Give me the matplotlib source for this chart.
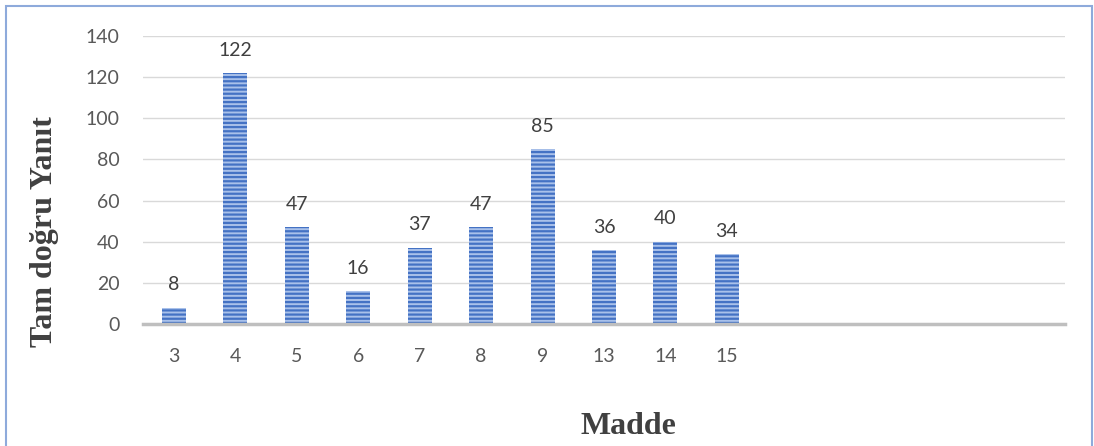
import matplotlib
matplotlib.use("Agg")
import matplotlib.pyplot as plt
from matplotlib.patches import Rectangle

# Item numbers and fully-correct answer counts (trailing slots left empty)
categories = ["3", "4", "5", "6", "7", "8", "9", "13", "14", "15", "", "", "", "", ""]
values = [8, 122, 47, 16, 37, 47, 85, 36, 40, 34]
y_ticks = [0, 20, 40, 60, 80, 100, 120, 140]

plt.rcParams["hatch.linewidth"] = 1.6
plt.rcParams["hatch.color"] = "#4472C4"

W, H = 1094, 446
fig = plt.figure(figsize=(W / 100, H / 100), dpi=100)
ax = fig.add_axes([143 / W, 1 - 324 / H, (1065 - 143) / W, (324 - 36) / H])

x = list(range(len(categories)))
bars = ax.bar(x[:len(values)], values, width=0.39, color="#a9c1ea",
              edgecolor="#4472C4", linewidth=0, hatch="----", zorder=3)

for xi, v in zip(x, values):
    ax.text(xi, v + 7, str(v), ha="center", va="bottom", fontsize=14,
            family="Lato", color="#404040")

ax.set_xlim(-0.5, len(categories) - 0.5)
ax.set_ylim(0, 140)
ax.set_yticks(y_ticks)
ax.set_xticks(x)
ax.set_xticklabels(categories)
ax.grid(axis="y", color="#d9d9d9", linewidth=1, zorder=0)
ax.set_axisbelow(True)
for s in ["top", "right", "left"]:
    ax.spines[s].set_visible(False)
ax.spines["bottom"].set_color("#bfbfbf")
ax.spines["bottom"].set_linewidth(2.5)
ax.spines["bottom"].set_zorder(4)
ax.tick_params(axis="both", length=0, labelsize=14, labelcolor="#595959")
ax.tick_params(axis="x", pad=17)
ax.tick_params(axis="y", pad=17)
for lab in ax.get_xticklabels() + ax.get_yticklabels():
    lab.set_family("Lato")

fig.text(45 / W, 1 - 232 / H, "Tam doğru Yanıt", rotation=90, ha="center",
         va="center", fontsize=23, fontweight="bold", family="Liberation Serif",
         color="#404040")
fig.text(628 / W, 1 - 427 / H, "Madde", ha="center", va="center", fontsize=23,
         fontweight="bold", family="Liberation Serif", color="#404040")

# Chart-area frame
fig.patches.append(Rectangle((6 / W, -0.1), (1092 - 6) / W, 1.1 - 6 / H,
                             transform=fig.transFigure, fill=False,
                             edgecolor="#8eaadb", linewidth=1.5))

fig.savefig("out.png", dpi=100, facecolor="white")
